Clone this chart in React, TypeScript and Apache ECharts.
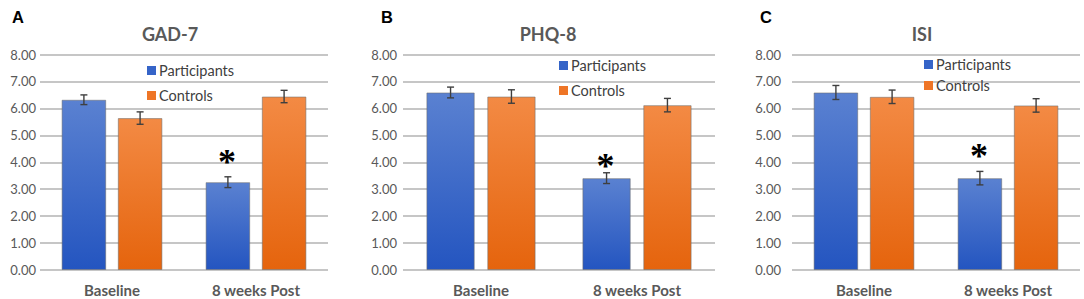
import React, { useEffect, useRef } from "react";
import * as echarts from "echarts";

const categories = ["Baseline", "8 weeks Post"];
const seriesNames = ["Participants", "Controls"];
const panelTitles = ["GAD-7", "PHQ-8", "ISI"];
const panelLetters = ["A", "B", "C"];

const gadParticipants = [6.32, 3.26];
const gadControls = [5.64, 6.44];
const gadParticipantsErr = [0.18, 0.2];
const gadControlsErr = [0.23, 0.23];
const gadStar = [null, 4.2];

const phqParticipants = [6.59, 3.41];
const phqControls = [6.44, 6.12];
const phqParticipantsErr = [0.2, 0.2];
const phqControlsErr = [0.25, 0.25];
const phqStar = [null, 4.05];

const isiParticipants = [6.59, 3.41];
const isiControls = [6.43, 6.11];
const isiParticipantsErr = [0.26, 0.25];
const isiControlsErr = [0.25, 0.25];
const isiStar = [null, 4.42];

const yMin = 0;
const yMax = 8;
const yInterval = 1;

const panels = [
  { p: gadParticipants, c: gadControls, pe: gadParticipantsErr, ce: gadControlsErr, star: gadStar },
  { p: phqParticipants, c: phqControls, pe: phqParticipantsErr, ce: phqControlsErr, star: phqStar },
  { p: isiParticipants, c: isiControls, pe: isiParticipantsErr, ce: isiControlsErr, star: isiStar },
];

// layout (not data)
const W = 1084;
const gridBoxes = [
  { left: 40, width: 288, labelMargin: 4, titleX: 165, letterX: 7, legendX: 142, legendY: 58, legendGap: 10 },
  { left: 403, width: 312, labelMargin: 6, titleX: 543, letterX: 376, legendX: 554, legendY: 53, legendGap: 10 },
  { left: 792, width: 288, labelMargin: 11, titleX: 917, letterX: 755, legendX: 919, legendY: 52, legendGap: 6 },
];
const gridTop = 54.5;
const gridHeight = 215.5;
const catGap = 0.3;
const barGap = 0.26;
const starShift = 5;

const blueGrad = () =>
  new echarts.graphic.LinearGradient(0, 0, 0, 1, [
    { offset: 0, color: "#5a81d1" },
    { offset: 1, color: "#2455c0" },
  ]);
const orangeGrad = () =>
  new echarts.graphic.LinearGradient(0, 0, 0, 1, [
    { offset: 0, color: "#f38a44" },
    { offset: 1, color: "#e5640d" },
  ]);

const labelColor = "#595959";

function errorSeries(panelIdx: number, values: number[], errs: number[], side: number, star: (number | null)[] | null) {
  return {
    type: "custom",
    xAxisIndex: panelIdx,
    yAxisIndex: panelIdx,
    z: 5,
    silent: true,
    data: values.map((v, i) => [i, v - errs[i], v + errs[i], star ? (star[i] == null ? -1 : star[i]) : -1]),
    renderItem: (params: any, api: any) => {
      const i = api.value(0);
      const band = api.size([1, 0])[0];
      const w = (band * (1 - catGap)) / (2 + barGap);
      const off = (w * (1 + barGap)) / 2;
      const lo = api.coord([i, api.value(1)]);
      const hi = api.coord([i, api.value(2)]);
      const x = lo[0] + side * off;
      const cap = 3.5;
      const style = { stroke: "#3f3f3f", lineWidth: 1.4 };
      const children: any[] = [
        { type: "line", shape: { x1: x, y1: lo[1], x2: x, y2: hi[1] }, style },
        { type: "line", shape: { x1: x - cap, y1: lo[1], x2: x + cap, y2: lo[1] }, style },
        { type: "line", shape: { x1: x - cap, y1: hi[1], x2: x + cap, y2: hi[1] }, style },
      ];
      const sv = api.value(3);
      if (sv >= 0) {
        const sp = api.coord([i, sv]);
        children.push({
          type: "text",
          x: x - 1,
          y: sp[1] + starShift,
          style: {
            text: "*",
            fill: "#000",
            font: "bold 36px 'Liberation Serif'",
            align: "center",
            verticalAlign: "middle",
          },
        });
      }
      return { type: "group", children };
    },
  };
}

export default function App() {
  const ref = useRef<HTMLDivElement>(null);
  useEffect(() => {
    if (!ref.current) return;
    const chart = echarts.init(ref.current, null, { renderer: "svg" });
    const grid: any[] = [];
    const xAxis: any[] = [];
    const yAxis: any[] = [];
    const series: any[] = [];
    const title: any[] = [];
    const legend: any[] = [];
    panels.forEach((pd, k) => {
      const g = gridBoxes[k];
      grid.push({ left: g.left, width: g.width, top: gridTop, height: gridHeight, containLabel: false });
      xAxis.push({
        type: "category",
        gridIndex: k,
        data: categories,
        axisLine: { show: false },
        axisTick: { show: false },
        axisLabel: {
          color: labelColor,
          fontFamily: "Lato",
          fontWeight: "bold",
          fontSize: 15,
          margin: 12,
        },
      });
      yAxis.push({
        type: "value",
        gridIndex: k,
        min: yMin,
        max: yMax,
        interval: yInterval,
        axisLine: { show: false },
        axisTick: { show: false },
        splitLine: { lineStyle: { color: "#c6c6c6", width: 2 } },
        axisLabel: {
          color: labelColor,
          fontFamily: "Lato",
          fontSize: 13,
          margin: g.labelMargin,
          formatter: (v: number) => v.toFixed(2),
        },
      });
      series.push({
        type: "bar",
        name: seriesNames[0],
        xAxisIndex: k,
        yAxisIndex: k,
        data: pd.p,
        barCategoryGap: catGap * 100 + "%",
        barGap: barGap * 100 + "%",
        itemStyle: { color: blueGrad(), borderColor: "rgba(110,110,110,0.55)", borderWidth: 1 },
      });
      series.push({
        type: "bar",
        name: seriesNames[1],
        xAxisIndex: k,
        yAxisIndex: k,
        data: pd.c,
        barCategoryGap: catGap * 100 + "%",
        barGap: barGap * 100 + "%",
        itemStyle: { color: orangeGrad(), borderColor: "rgba(110,110,110,0.55)", borderWidth: 1 },
      });
      series.push(errorSeries(k, pd.p, pd.pe, -1, pd.star));
      series.push(errorSeries(k, pd.c, pd.ce, 1, null));
      title.push({
        text: panelTitles[k],
        left: g.titleX,
        top: 20,
        textAlign: "center",
        textStyle: { fontFamily: "Lato", fontWeight: "bold", fontSize: 18, color: labelColor },
      });
      title.push({
        text: panelLetters[k],
        left: g.letterX,
        top: 3,
        textStyle: { fontFamily: "Liberation Sans", fontWeight: "bold", fontSize: 16.5, color: "#000" },
      });
      legend.push({
        left: g.legendX,
        top: g.legendY,
        orient: "vertical",
        itemWidth: 9,
        itemHeight: 9,
        itemGap: g.legendGap,
        icon: "rect",
        selectedMode: false,
        textStyle: { fontFamily: "Lato", fontSize: 14.5, color: "#404040", padding: [0, 0, 0, -2] },
        data: [
          { name: seriesNames[0], itemStyle: { color: "#3564c8", borderWidth: 0 } },
          { name: seriesNames[1], itemStyle: { color: "#ee7526", borderWidth: 0 } },
        ],
      });
    });
    chart.setOption({
      animation: false,
      backgroundColor: "#fff",
      title,
      legend,
      grid,
      xAxis,
      yAxis,
      series,
    });
    return () => chart.dispose();
  }, []);
  return (
    <div
      ref={ref}
      style={{ position: "fixed", left: 0, top: 0, width: W, height: 299 }}
    />
  );
}
